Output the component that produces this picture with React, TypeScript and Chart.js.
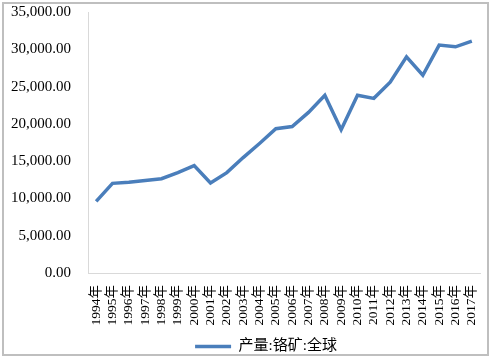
import React, { useEffect, useRef } from "react";
import { Chart, registerables } from "chart.js";

Chart.register(...registerables);

const years: string[] = [
  "1994年", "1995年", "1996年", "1997年", "1998年", "1999年", "2000年", "2001年",
  "2002年", "2003年", "2004年", "2005年", "2006年", "2007年", "2008年", "2009年",
  "2010年", "2011年", "2012年", "2013年", "2014年", "2015年", "2016年", "2017年",
];

const production: number[] = [
  9600, 12020, 12180, 12400, 12650, 13460, 14400, 12070,
  13460, 15480, 17370, 19340, 19650, 21540, 23830, 19210,
  23830, 23420, 25580, 28980, 26520, 30560, 30330, 31100,
];

const seriesLabel = "产量:铬矿:全球";
const yMin = 0;
const yMax = 35000;
const yStep = 5000;

const FONT = "'Liberation Serif', 'Times New Roman', 'Noto Sans CJK SC', serif";

const borderPlugin = {
  id: "outerBorder",
  beforeDraw(chart: any) {
    const ctx = chart.ctx;
    ctx.save();
    ctx.fillStyle = "#ffffff";
    ctx.fillRect(0, 0, chart.width, chart.height);
    ctx.strokeStyle = "#bfbfbf";
    ctx.lineWidth = 2;
    ctx.strokeRect(3, 3, chart.width - 5, chart.height - 5);
    ctx.restore();
  },
};

const legendShift = {
  id: "legendShift",
  afterLayout(chart: any) {
    const lg = chart.legend;
    if (!lg) return;
    const dx = 22;
    const dy = 8;
    lg.left += dx;
    lg.right += dx;
    lg.top += dy;
    lg.bottom += dy;
  },
};

export default function App() {
  const ref = useRef<HTMLCanvasElement | null>(null);

  useEffect(() => {
    document.body.style.margin = "0";
    if (!ref.current) return;
    const chart = new Chart(ref.current, {
      type: "line",
      data: {
        labels: years,
        datasets: [
          {
            label: seriesLabel,
            data: production,
            borderColor: "#4a7ebb",
            backgroundColor: "#4a7ebb",
            borderWidth: 3.5,
            pointRadius: 0,
            pointHoverRadius: 0,
            tension: 0,
            fill: false,
          },
        ],
      },
      options: {
        animation: false,
        responsive: false,
        maintainAspectRatio: false,
        layout: { padding: { left: 8, right: 10, top: 0, bottom: 1 } },
        plugins: {
          legend: {
            position: "bottom",
            labels: {
              usePointStyle: true,
              pointStyle: "line",
              pointStyleWidth: 36,
              color: "#000000",
              font: { family: FONT, size: 15 },
              padding: 4,
            },
          },
          tooltip: { enabled: false },
        },
        scales: {
          x: {
            offset: true,
            grid: { display: false, drawTicks: false },
            border: { display: true, color: "#d9d9d9", width: 1 },
            afterFit: (scale: any) => {
              scale.height = 54;
              scale.paddingLeft = 0;
              scale.paddingRight = 0;
            },
            ticks: {
              autoSkip: false,
              maxRotation: 90,
              minRotation: 90,
              padding: 12,
              color: "#000000",
              font: { family: FONT, size: 13.5 },
            },
          },
          y: {
            min: yMin,
            max: yMax,
            grid: { display: false, drawTicks: false },
            border: { display: true, color: "#d9d9d9", width: 1 },
            afterFit: (scale: any) => {
              scale.width = 80;
              scale.paddingTop = 12;
              scale.paddingBottom = 0;
            },
            ticks: {
              stepSize: yStep,
              padding: 17,
              color: "#000000",
              font: { family: FONT, size: 15 },
              callback: (v: any) =>
                Number(v).toLocaleString("en-US", {
                  minimumFractionDigits: 2,
                  maximumFractionDigits: 2,
                }),
            },
          },
        },
      },
      plugins: [borderPlugin, legendShift],
    });
    return () => chart.destroy();
  }, []);

  return (
    <div style={{ width: 490, height: 357 }}>
      <canvas ref={ref} width={490} height={357} style={{ display: "block" }} />
    </div>
  );
}
